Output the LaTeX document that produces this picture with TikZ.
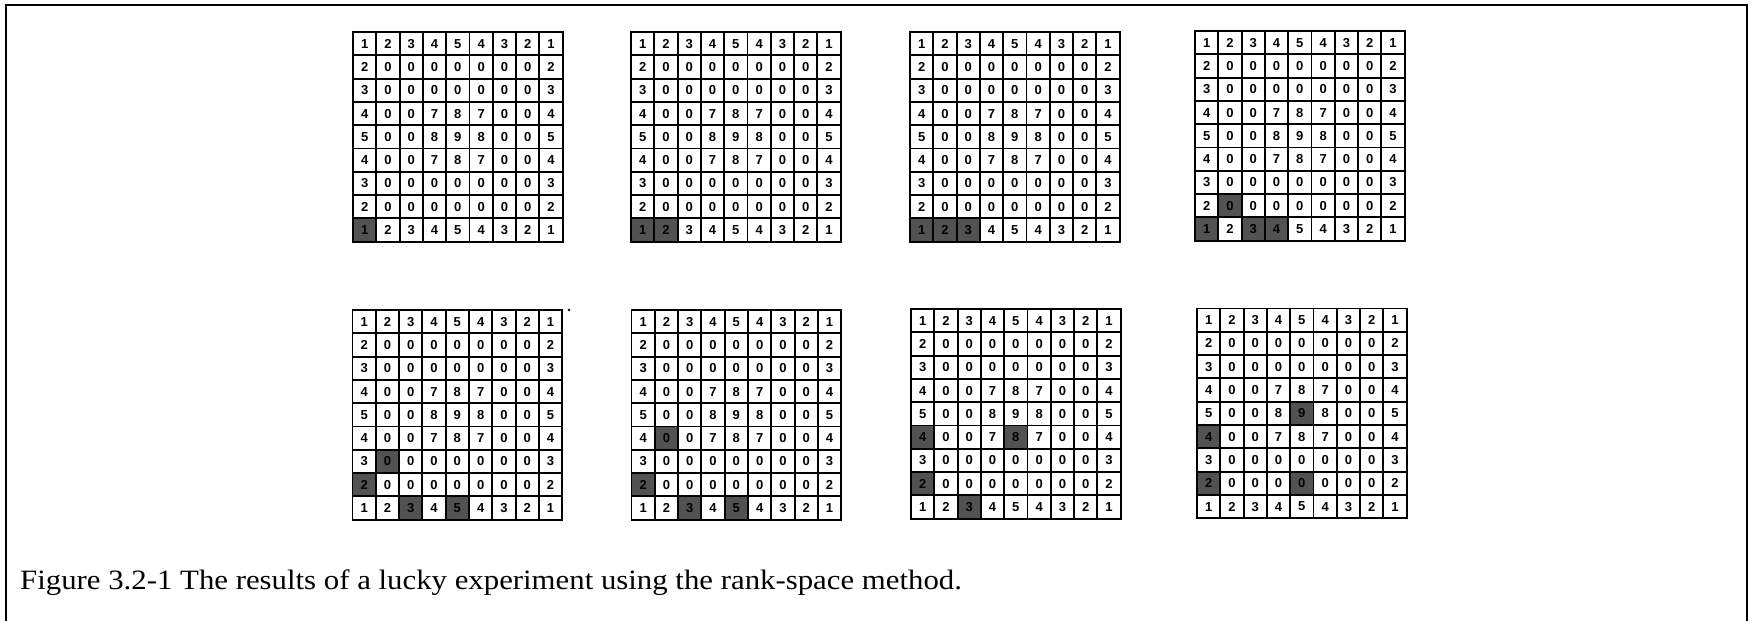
\documentclass[tikz,border=0pt]{standalone}
\usepackage{fontspec}
\setmainfont{Liberation Serif}
\setsansfont{Liberation Sans}

% cell pitch of the 9x9 boards
\def\cs{23.3}

\tikzset{
  cellnum/.style={font=\sffamily\bfseries\fontsize{13}{14}\selectfont, inner sep=0pt, anchor=center},
  hotcell/.style={fill=black!68},
  gridline/.style={line width=1.9pt, black, line cap=rect},
  framebar/.style={line width=2.2pt, black},
  captiontext/.style={font=\fontsize{28}{32}\selectfont, xscale=1.1, inner sep=0pt, anchor=base west},
}

% \board{name}{left}{top}{visited cells as row/col}
\newcommand\board[4]{%
  \begin{scope}[shift={(#2,#3)}]
    \foreach \r/\c in {#4}{
      \fill[hotcell] ({(\c-1)*\cs},{(\r-1)*\cs}) rectangle ++(\cs,\cs);
    }
    \foreach \r in {1,...,9}{
      \foreach \c in {1,...,9}{
        \pgfmathtruncatemacro\v{(\r==1||\r==9) ? 5-abs(\c-5) :
          ((\c==1||\c==9) ? 5-abs(\r-5) :
          ((abs(\r-5)<=1 && abs(\c-5)<=1) ? 9-abs(\r-5)-abs(\c-5) : 0))}
        \node[cellnum] (#1-\r-\c) at ({(\c-0.5)*\cs},{(\r-0.5)*\cs}) {\v};
      }
    }
    \foreach \i in {0,...,9}{
      \draw[gridline] ({\i*\cs},0) -- ({\i*\cs},{9*\cs});
      \draw[gridline] (0,{\i*\cs}) -- ({9*\cs},{\i*\cs});
    }
  \end{scope}
}

\begin{document}
\begin{tikzpicture}[x=1pt,y=-1pt]
  \useasboundingbox (0,0) rectangle (1754,621);
  \fill[white] (0,0) rectangle (1754,621);

  % open frame round the figure
  \draw[framebar] (6,621) -- (6,5) -- (1747,5) -- (1747,621);

  % first row of boards
  \board{ga}{353}{32}{9/1}
  \board{gb}{631}{32}{9/1,9/2}
  \board{gc}{910}{32}{9/1,9/2,9/3}
  \board{gd}{1195}{31}{8/2,9/1,9/3,9/4}

  % second row of boards
  \board{ge}{352.5}{310}{7/2,8/1,9/3,9/5}
  \board{gf}{631.5}{310}{6/2,8/1,9/3,9/5}
  \board{gg}{911}{309}{6/1,6/5,8/1,9/3}
  \board{gh}{1197}{308.5}{5/5,6/1,8/1,8/5}

  % stray speck beside the fifth board
  \fill (569,310) circle (1.3);

  \node[captiontext] (caption) at (20,589)
    {Figure 3.2-1 The results of a lucky experiment using the rank-space method.};
\end{tikzpicture}
\end{document}
